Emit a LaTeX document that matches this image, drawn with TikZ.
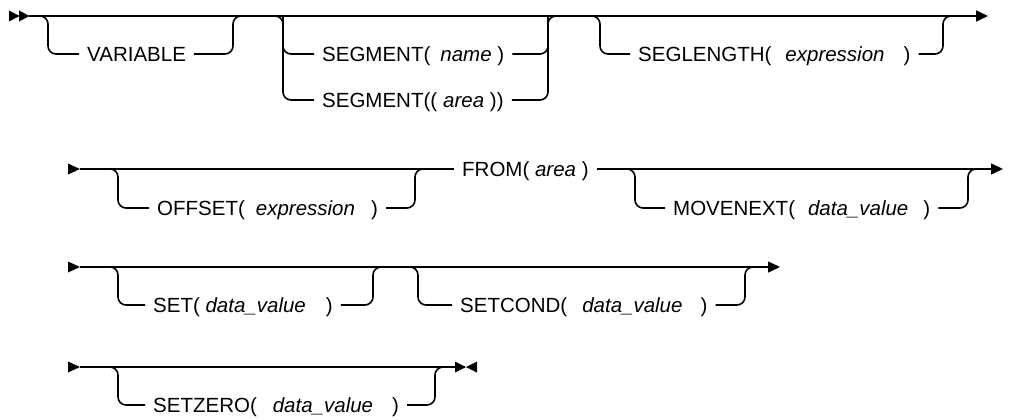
\documentclass[tikz,border=0pt]{standalone}
\usepackage{fontspec}
\setmainfont{Liberation Sans}
\usetikzlibrary{arrows.meta}
\begin{document}
\begin{tikzpicture}[x=1pt,y=-1pt,
  rail/.style={line width=1.6pt, rounded corners=8pt},
  lbl/.style={anchor=base west, inner xsep=8pt, inner ysep=0pt, font=\fontsize{20.5}{24}\selectfont},
  endarrow/.style={-{Triangle[length=12pt,width=11pt]}},
  marker/.style={fill=black}]
\useasboundingbox (0,0) rectangle (1010,420);

% ---------------- Row 1 ----------------
\coordinate (r1s) at (29,16);
\coordinate (r1e) at (988,16);
\fill[marker] (9,10.5) -- (19.5,16) -- (9,21.5) -- cycle;
\fill[marker] (19,10.5) -- (29.5,16) -- (19,21.5) -- cycle;
\draw[rail,endarrow] (r1s) -- (r1e);

% VARIABLE
\coordinate (vL) at (48,16);  \coordinate (vLb) at (48,54);
\coordinate (vR) at (233,16); \coordinate (vRb) at (233,54);
\node[lbl] (var) at (79,61.5) {VARIABLE\hspace{10pt}};
\draw[rail] ([xshift=-14pt]vL) -- (vL) -- (vLb) -- (var.west |- vLb);
\draw[rail] (var.east |- vRb) -- (vRb) -- (vR) -- ([xshift=14pt]vR);

% SEGMENT
\coordinate (sL) at (283,16);  \coordinate (sLa) at (283,54); \coordinate (sLb) at (283,100);
\coordinate (sR) at (548,16);  \coordinate (sRa) at (548,54); \coordinate (sRb) at (548,100);
\node[lbl] (seg1) at (314,61.5) {SEGMENT(\hspace{10pt}\textit{name} )};
\node[lbl] (seg2) at (314,107.5) {SEGMENT((\hspace{6pt}\textit{area} ))};
\draw[rail] ([xshift=-14pt]sL) -- (sL) -- (sLb) -- (seg2.west |- sLb);
\draw[rail] (sL) -- (sLa) -- (seg1.west |- sLa);
\draw[rail] (seg2.east |- sRb) -- (sRb) -- (sR) -- ([xshift=14pt]sR);
\draw[rail] (seg1.east |- sRa) -- (sRa) -- (sR);

% SEGLENGTH
\coordinate (lL) at (600,16);  \coordinate (lLb) at (600,54);
\coordinate (lR) at (943,16);  \coordinate (lRb) at (943,54);
\node[lbl] (seglen) at (630,61.5) {SEGLENGTH(\hspace{14pt}\textit{expression}\hspace{19pt})};
\draw[rail] ([xshift=-14pt]lL) -- (lL) -- (lLb) -- (seglen.west |- lLb);
\draw[rail] (seglen.east |- lRb) -- (lRb) -- (lR) -- ([xshift=14pt]lR);

% ---------------- Row 2 ----------------
\coordinate (r2s) at (80,169);
\coordinate (r2e) at (1003,169);
\fill[marker] (68,163.5) -- (80,169) -- (68,174.5) -- cycle;
\node[lbl] (from) at (454,176.5) {FROM( \textit{area} )};
\draw[rail] (r2s) -- (from.west |- r2s);
\draw[rail,endarrow] (from.east |- r2e) -- (r2e);

% OFFSET
\coordinate (oL) at (118,169);  \coordinate (oLb) at (118,208);
\coordinate (oR) at (415,169);  \coordinate (oRb) at (415,208);
\node[lbl] (off) at (149,215.5) {OFFSET(\hspace{11pt}\textit{expression}\hspace{16pt})};
\draw[rail] ([xshift=-14pt]oL) -- (oL) -- (oLb) -- (off.west |- oLb);
\draw[rail] (off.east |- oRb) -- (oRb) -- (oR) -- ([xshift=14pt]oR);

% MOVENEXT
\coordinate (mL) at (635,169);  \coordinate (mLb) at (635,208);
\coordinate (mR) at (968,169);  \coordinate (mRb) at (968,208);
\node[lbl] (mov) at (665,215.5) {MOVENEXT(\hspace{13pt}\textit{data\_value}\hspace{15pt})};
\draw[rail] ([xshift=-14pt]mL) -- (mL) -- (mLb) -- (mov.west |- mLb);
\draw[rail] (mov.east |- mRb) -- (mRb) -- (mR) -- ([xshift=14pt]mR);

% ---------------- Row 3 ----------------
\coordinate (r3s) at (80,267);
\coordinate (r3e) at (780,267);
\fill[marker] (68,261.5) -- (80,267) -- (68,272.5) -- cycle;
\draw[rail,endarrow] (r3s) -- (r3e);

% SET
\coordinate (tL) at (118,267);  \coordinate (tLb) at (118,305);
\coordinate (tR) at (373,267);  \coordinate (tRb) at (373,305);
\node[lbl] (set) at (145,312.5) {SET( \textit{data\_value}\hspace{20pt})};
\draw[rail] ([xshift=-14pt]tL) -- (tL) -- (tLb) -- (set.west |- tLb);
\draw[rail] (set.east |- tRb) -- (tRb) -- (tR) -- ([xshift=14pt]tR);

% SETCOND
\coordinate (cL) at (418,267);  \coordinate (cLb) at (418,305);
\coordinate (cR) at (745,267);  \coordinate (cRb) at (745,305);
\node[lbl] (setc) at (452,312.5) {SETCOND(\hspace{15pt}\textit{data\_value}\hspace{18pt})};
\draw[rail] ([xshift=-14pt]cL) -- (cL) -- (cLb) -- (setc.west |- cLb);
\draw[rail] (setc.east |- cRb) -- (cRb) -- (cR) -- ([xshift=14pt]cR);

% ---------------- Row 4 ----------------
\coordinate (r4s) at (80,367);
\coordinate (r4e) at (455,367);
\fill[marker] (68,361.5) -- (80,367) -- (68,372.5) -- cycle;
\draw[rail] (r4s) -- (r4e);
\fill[marker] (455,361.5) -- (466,367) -- (455,372.5) -- cycle;
\fill[marker] (477,361.5) -- (466,367) -- (477,372.5) -- cycle;

% SETZERO
\coordinate (zL) at (118,367);  \coordinate (zLb) at (118,405);
\coordinate (zR) at (435,367);  \coordinate (zRb) at (435,405);
\node[lbl] (setz) at (145,412.5) {SETZERO(\hspace{16pt}\textit{data\_value}\hspace{19pt})};
\draw[rail] ([xshift=-14pt]zL) -- (zL) -- (zLb) -- (setz.west |- zLb);
\draw[rail] (setz.east |- zRb) -- (zRb) -- (zR) -- ([xshift=14pt]zR);
\end{tikzpicture}
\end{document}
